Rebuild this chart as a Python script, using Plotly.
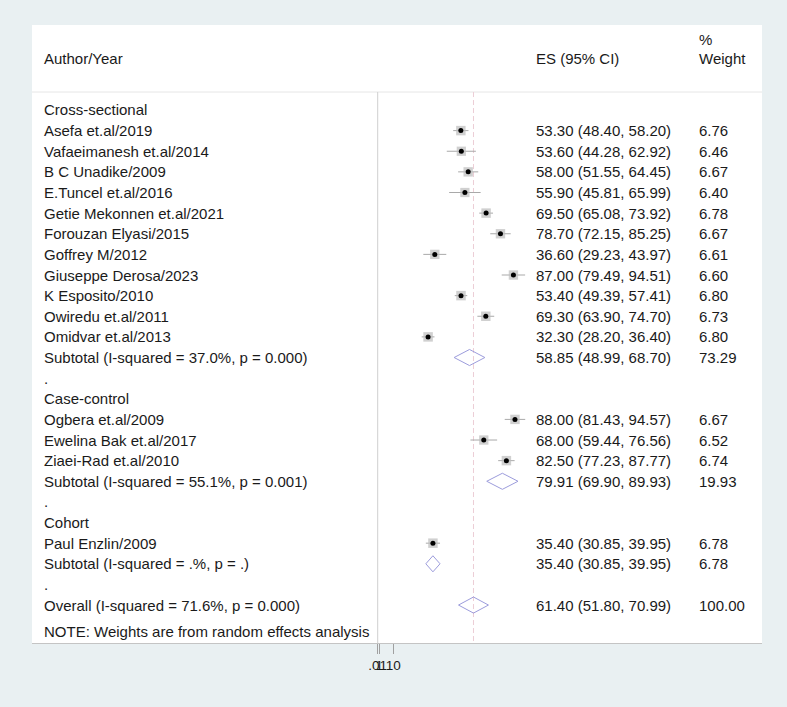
import plotly.graph_objects as go
import math

# ---------------- data ----------------
cs_names = ["Asefa et.al/2019", "Vafaeimanesh et.al/2014", "B C Unadike/2009",
            "E.Tuncel et.al/2016", "Getie Mekonnen et.al/2021", "Forouzan Elyasi/2015",
            "Goffrey M/2012", "Giuseppe Derosa/2023", "K Esposito/2010",
            "Owiredu et.al/2011", "Omidvar et.al/2013"]
cs_es = [53.30, 53.60, 58.00, 55.90, 69.50, 78.70, 36.60, 87.00, 53.40, 69.30, 32.30]
cs_lo = [48.40, 44.28, 51.55, 45.81, 65.08, 72.15, 29.23, 79.49, 49.39, 63.90, 28.20]
cs_hi = [58.20, 62.92, 64.45, 65.99, 73.92, 85.25, 43.97, 94.51, 57.41, 74.70, 36.40]
cs_w = [6.76, 6.46, 6.67, 6.40, 6.78, 6.67, 6.61, 6.60, 6.80, 6.73, 6.80]
cs_sub = ("Subtotal (I-squared = 37.0%, p = 0.000)", 58.85, 48.99, 68.70, 73.29)

cc_names = ["Ogbera et.al/2009", "Ewelina Bak et.al/2017", "Ziaei-Rad et.al/2010"]
cc_es = [88.00, 68.00, 82.50]
cc_lo = [81.43, 59.44, 77.23]
cc_hi = [94.57, 76.56, 87.77]
cc_w = [6.67, 6.52, 6.74]
cc_sub = ("Subtotal (I-squared = 55.1%, p = 0.001)", 79.91, 69.90, 89.93, 19.93)

co_names = ["Paul Enzlin/2009"]
co_es = [35.40]
co_lo = [30.85]
co_hi = [39.95]
co_w = [6.78]
co_sub = ("Subtotal (I-squared = .%, p = .)", 35.40, 30.85, 39.95, 6.78)

overall = ("Overall (I-squared = 71.6%, p = 0.000)", 61.40, 51.80, 70.99, 100.00)

groups = [
    ("Cross-sectional", cs_names, cs_es, cs_lo, cs_hi, cs_w, cs_sub),
    ("Case-control", cc_names, cc_es, cc_lo, cc_hi, cc_w, cc_sub),
    ("Cohort", co_names, co_es, co_lo, co_hi, co_w, co_sub),
]

tick_vals = [0.01, 1, 10]
tick_text = [".01", "1", "10"]

# ---------------- build rows ----------------
rows = []  # (label, kind, es, lo, hi, w)
for gname, names, es, lo, hi, w, sub in groups:
    rows.append((gname, "head", None, None, None, None))
    for i in range(len(names)):
        rows.append((names[i], "study", es[i], lo[i], hi[i], w[i]))
    rows.append((sub[0], "sub", sub[1], sub[2], sub[3], sub[4]))
    rows.append((".", "dot", None, None, None, None))
rows.append((overall[0], "overall", overall[1], overall[2], overall[3], overall[4]))

FONT = "Liberation Sans, Arial, Helvetica, sans-serif"
FS = 15
TXT = "#1a1a1a"

fig = go.Figure()
annotations = []

X_AUTH, X_ES, X_W = 0.0155, 0.689, 0.912

def add_text(x, y, text):
    annotations.append(dict(x=x, y=y, xref="paper", yref="y", text=text,
                            showarrow=False, xanchor="left", yanchor="middle",
                            font=dict(family=FONT, size=FS, color=TXT),
                            borderpad=0))

# header
add_text(X_AUTH, -1.5, "Author/Year")
add_text(X_ES, -1.5, "ES (95% CI)")
add_text(X_W, -1.5, "Weight")
add_text(X_W, -2.4, "%")

HEADER_Y = 0.13
Y_BOTTOM = 26.84
Y_TOP = -3.12
H = 0.39  # diamond half-height in rows

study_x, study_y, study_s = [], [], []
for r, (label, kind, es, lo, hi, w) in enumerate(rows, start=1):
    add_text(X_AUTH, r, label)
    if es is not None:
        add_text(X_ES, r, f"{es:.2f} ({lo:.2f}, {hi:.2f})")
        add_text(X_W, r, f"{w:.2f}")
    if kind == "study":
        fig.add_trace(go.Scatter(x=[lo, hi], y=[r, r], mode="lines",
                                 line=dict(color="#a9a9a9", width=1),
                                 hoverinfo="skip", showlegend=False))
        study_x.append(es)
        study_y.append(r)
        study_s.append(9.5 * math.sqrt(w / 6.8))
    elif kind in ("sub", "overall"):
        fig.add_trace(go.Scatter(x=[lo, es, hi, es, lo], y=[r, r - H, r, r + H, r],
                                 mode="lines", line=dict(color="#9c9cdc", width=1),
                                 hoverinfo="skip", showlegend=False))

note_y = len(rows) + 1.3
add_text(X_AUTH, note_y, "NOTE: Weights are from random effects analysis")

# boxes and centre points
fig.add_trace(go.Scatter(x=study_x, y=study_y, mode="markers",
                         marker=dict(symbol="square", size=study_s, color="#bcbcbc",
                                     line=dict(width=0)),
                         hoverinfo="skip", showlegend=False))
fig.add_trace(go.Scatter(x=study_x, y=study_y, mode="markers",
                         marker=dict(symbol="circle", size=5, color="#000000",
                                     line=dict(width=0)),
                         hoverinfo="skip", showlegend=False))

# lines: header separator, null line, overall dashed line
shapes = [
    dict(type="line", xref="paper", yref="y", x0=0, x1=1, y0=HEADER_Y, y1=HEADER_Y,
         line=dict(color="#e6e6e6", width=1), layer="below"),
    dict(type="line", xref="x", yref="y", x0=0, x1=0, y0=HEADER_Y, y1=Y_BOTTOM,
         line=dict(color="#cfcfcf", width=1), layer="below"),
    dict(type="line", xref="x", yref="y", x0=overall[1], x1=overall[1],
         y0=HEADER_Y, y1=Y_BOTTOM,
         line=dict(color="#eccdd5", width=1, dash="5px,3px"), layer="below"),
]

PX_PER_UNIT = 1.56
ZERO_PX = 377.7
L, R, T, B = 32, 762, 25, 643
x_left = (L - ZERO_PX) / PX_PER_UNIT
x_right = (R - ZERO_PX) / PX_PER_UNIT

fig.update_layout(
    width=787, height=707,
    margin=dict(l=L, r=787 - R, t=T, b=707 - B),
    paper_bgcolor="#e9f0f2",
    plot_bgcolor="#ffffff",
    annotations=annotations,
    shapes=shapes,
    showlegend=False,
    xaxis=dict(range=[x_left, x_right], tickvals=tick_vals, ticktext=tick_text,
               tickangle=0,
               ticks="outside", ticklen=10, tickcolor="#a0a0a0", tickwidth=1,
               showgrid=False, zeroline=False, showline=True, linecolor="#c4c4c4",
               linewidth=1, tickfont=dict(family=FONT, size=13.5, color=TXT),
               fixedrange=True),
    yaxis=dict(range=[Y_BOTTOM, Y_TOP], showticklabels=False, showgrid=False,
               zeroline=False, showline=False, ticks="", fixedrange=True),
    font=dict(family=FONT, size=FS, color=TXT),
)

fig.write_html("out.html",
               config={"displayModeBar": False},
               post_script="document.body.style.margin='0';document.body.style.padding='0';")
